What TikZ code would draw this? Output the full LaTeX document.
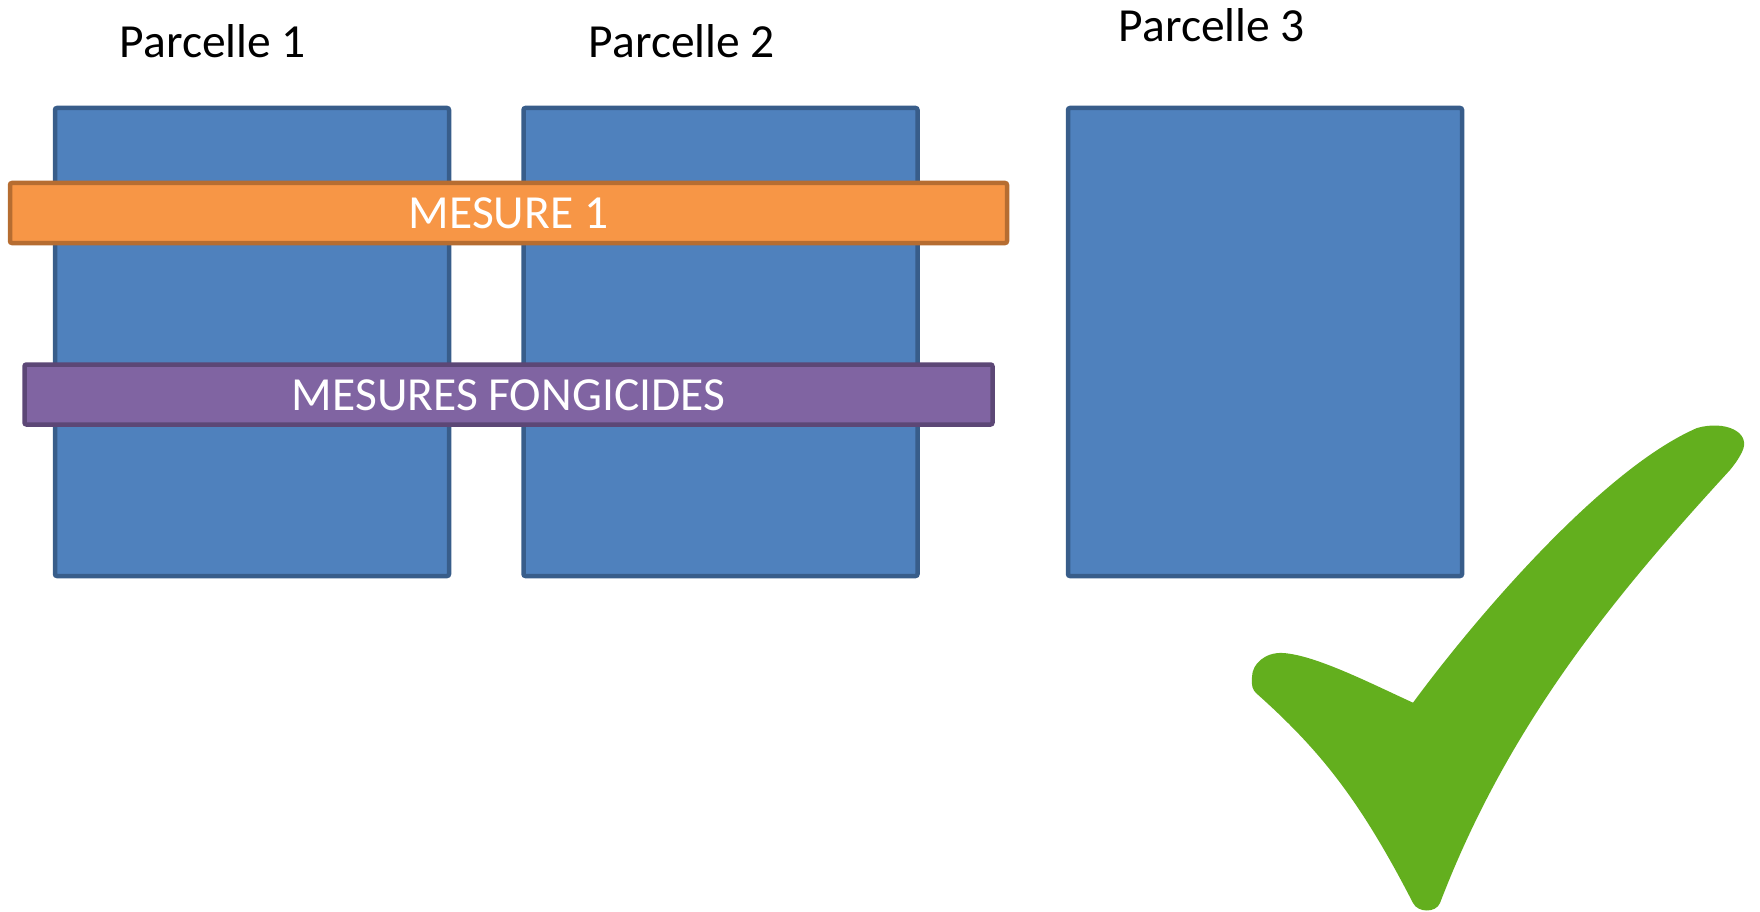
\documentclass[tikz,border=0pt]{standalone}
\usepackage{fontspec}
\setmainfont{Carlito}
\usepackage{tikz}
\usetikzlibrary{positioning}
\definecolor{parcfill}{HTML}{4F81BD}
\definecolor{parcdraw}{HTML}{385D8A}
\definecolor{mesfill}{HTML}{F79646}
\definecolor{mesdraw}{HTML}{B66D31}
\definecolor{fongfill}{HTML}{8064A2}
\definecolor{fongdraw}{HTML}{5C4776}
\definecolor{checkgreen}{HTML}{63AF1E}

\begin{document}
\begin{tikzpicture}[x=1pt, y=-1pt,
    parcelle/.style={draw=parcdraw, fill=parcfill, line width=4.5pt, rounded corners=2pt, minimum width=394pt, minimum height=468pt, inner sep=0pt},
    bande/.style={line width=4.5pt, rounded corners=2pt, minimum height=60pt, inner sep=0pt},
    titre/.style={anchor=base, font=\fontsize{47.5}{56}\selectfont},
    intitule/.style={anchor=base, text=white, font=\fontsize{47.5}{56}\selectfont}]
    \useasboundingbox (0,0) rectangle (1760,912);
    % parcelles
    \node[parcelle] (p1) at (252,342) {};
    \node[parcelle] (p2) at (720.5,342) {};
    \node[parcelle] (p3) at (1265,342) {};
    \node[titre] (l1) at (213,58) {Parcelle 1};
    \node[titre] (l2) at (682,58) {Parcelle 2};
    \node[titre] (l3) at (1212,42) {Parcelle 3};
    % mesures
    \node[bande, draw=mesdraw, fill=mesfill, minimum width=997pt] (m1) at (508.5,213) {};
    \node[intitule] (t1) at (508.5,228) {MESURE 1};
    \node[bande, draw=fongdraw, fill=fongfill, minimum width=968pt] (m2) at (508.5,394.5) {};
    \node[intitule] (t2) at (508.5,410) {MESURES FONGICIDES};
    % coche
    \fill[checkgreen] (1413,702.7) .. controls (1370,683) and (1315,655) .. (1283,653)
        .. controls (1265,652) and (1252,664) .. (1252,677)
        .. controls (1251,686) and (1253,690) .. (1256,693)
        .. controls (1320,750) and (1360,800) .. (1413,903)
        .. controls (1418,913) and (1436,913) .. (1440,903)
        .. controls (1510,720) and (1620,590) .. (1730,470)
        .. controls (1734,465) and (1738,460) .. (1742,452)
        .. controls (1752,432) and (1725,420) .. (1697,428)
        .. controls (1600,470) and (1470,625) .. (1413,702.7) -- cycle;
\end{tikzpicture}
\end{document}
